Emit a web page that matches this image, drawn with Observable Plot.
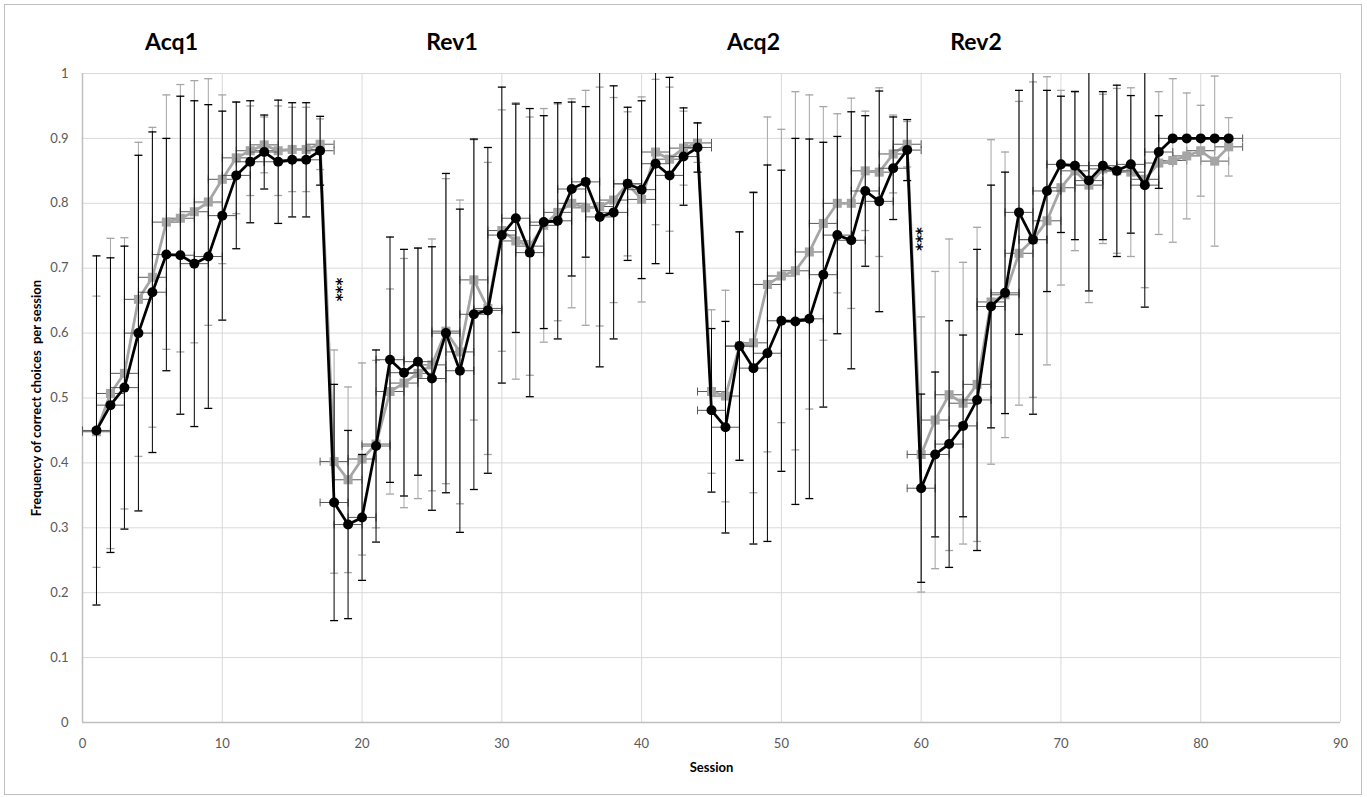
<!DOCTYPE html>
<html>
<head>
<meta charset="utf-8">
<script src="https://cdn.jsdelivr.net/npm/d3@7"></script>
<script src="https://cdn.jsdelivr.net/npm/@observablehq/plot@0.6"></script>
<style>
  body { margin: 0; background: #fff; }
  #chart { position: absolute; left: 0; top: 0; }
  #border { position: absolute; left: 4px; top: 4px; width: 1358px; height: 791px; border: 1px solid #bfbfbf; box-sizing: border-box; pointer-events: none; }
  text { white-space: pre; }
</style>
</head>
<body>
<div id="chart"></div>
<div id="border"></div>
<script>
// ---------- data ----------
const sessions = [1,2,3,4,5,6,7,8,9,10,11,12,13,14,15,16,17,
  18,19,20,21,22,23,24,25,26,27,28,29,30,31,32,33,34,35,36,37,38,39,40,41,42,43,44,
  45,46,47,48,49,50,51,52,53,54,55,56,57,58,59,
  60,61,62,63,64,65,66,67,68,69,70,71,72,73,74,75,76,77,78,79,80,81,82];

// black series (circles): mean and SD
const blackMean = [
  0.450,0.489,0.516,0.600,0.663,0.721,0.720,0.707,0.718,0.781,0.843,0.864,0.879,0.864,0.867,0.867,0.881,
  0.339,0.305,0.316,0.426,0.559,0.539,0.556,0.530,0.600,0.542,0.629,0.635,0.751,0.777,0.724,0.771,0.773,0.822,0.833,0.779,0.786,0.830,0.821,0.861,0.843,0.872,0.886,
  0.481,0.455,0.580,0.546,0.569,0.619,0.618,0.622,0.690,0.751,0.743,0.819,0.803,0.854,0.882,
  0.361,0.413,0.429,0.457,0.497,0.641,0.662,0.786,0.744,0.819,0.860,0.858,0.835,0.858,0.850,0.860,0.828,0.879,0.900,0.900,0.900,0.900,0.900];
const blackSD = [
  0.269,0.227,0.218,0.274,0.247,0.179,0.245,0.251,0.234,0.161,0.113,0.094,0.057,0.095,0.088,0.088,0.053,
  0.182,0.145,0.097,0.148,0.189,0.190,0.175,0.203,0.246,0.249,0.270,0.251,0.228,0.176,0.222,0.164,0.182,0.134,0.116,0.231,0.195,0.118,0.137,0.154,0.151,0.075,0.038,
  0.126,0.163,0.176,0.271,0.290,0.232,0.282,0.277,0.204,0.152,0.198,0.116,0.170,0.079,0.047,
  0.145,0.127,0.190,0.140,0.232,0.187,0.186,0.188,0.269,0.155,0.105,0.114,0.170,0.114,0.132,0.106,0.188,0.056,0,0,0,0,0];

// gray series (squares): mean and SD
const grayMean = [
  0.448,0.507,0.538,0.652,0.686,0.771,0.777,0.787,0.802,0.837,0.870,0.881,0.890,0.881,0.883,0.883,0.891,
  0.402,0.374,0.406,0.429,0.510,0.523,0.538,0.551,0.603,0.571,0.682,0.638,0.758,0.742,0.734,0.766,0.786,0.800,0.793,0.795,0.805,0.830,0.806,0.879,0.868,0.885,0.893,
  0.510,0.503,0.580,0.585,0.675,0.688,0.696,0.725,0.769,0.800,0.800,0.850,0.848,0.876,0.891,
  0.413,0.466,0.505,0.492,0.521,0.648,0.659,0.723,0.744,0.773,0.824,0.850,0.828,0.853,0.850,0.848,0.837,0.862,0.866,0.873,0.881,0.865,0.887];
const graySD = [
  0.209,0.239,0.209,0.242,0.231,0.196,0.206,0.202,0.190,0.130,0.086,0.069,0.043,0.069,0.065,0.065,0.039,
  0.172,0.143,0.148,0.129,0.158,0.192,0.193,0.194,0.235,0.234,0.216,0.225,0.186,0.213,0.199,0.180,0.167,0.161,0.181,0.184,0.158,0.111,0.158,0.112,0.111,0.057,0.030,
  0.126,0.163,0.176,0.231,0.258,0.226,0.276,0.242,0.180,0.138,0.162,0.092,0.130,0.060,0.035,
  0.212,0.229,0.240,0.217,0.242,0.250,0.220,0.234,0.243,0.222,0.150,0.123,0.181,0.115,0.127,0.130,0.167,0.110,0.126,0.097,0.070,0.131,0.045];

const sessionErr = 1; // horizontal error (sessions)

const phaseLabels = ["Acq1", "Rev1", "Acq2", "Rev2"];
const sigMarks = [{s: 18.15, v: 0.667, label: "***"}, {s: 59.65, v: 0.745, label: "***"}];

const xTicks = [0,10,20,30,40,50,60,70,80,90];
const yTicks = [0,0.1,0.2,0.3,0.4,0.5,0.6,0.7,0.8,0.9,1];

const yLabel = "Frequency of correct choices  per session";
const xLabel = "Session";

// ---------- layout ----------
const W = 1367, H = 797;
const ML = 82, MR = 27, MT = 73, MB = 75;
const phaseDx = [89, 369.5, 671, 893.5]; // px offsets of phase titles from plot left

const BLACK = "#000000", GRAY = "#a5a5a5", HBAR = "#595959";

const capH = { draw(ctx) { ctx.moveTo(-4, 0); ctx.lineTo(4, 0); } };
const capV = { draw(ctx) { ctx.moveTo(0, -4); ctx.lineTo(0, 4); } };

const blackRows = sessions.map((s, i) => ({s, m: blackMean[i], sd: blackSD[i]}));
const grayRows = sessions.map((s, i) => ({s, m: grayMean[i], sd: graySD[i]}));

function seriesMarks(rows, col, markerSymbol, markerR) {
  const withSD = rows.filter(d => d.sd > 0);
  return [
    Plot.ruleY(rows, {y: "m", x1: d => d.s - sessionErr, x2: d => d.s + sessionErr, stroke: HBAR, strokeWidth: 1}),
    Plot.dot(rows, {x: d => d.s - sessionErr, y: "m", symbol: capV, stroke: HBAR, strokeWidth: 1, fill: "none"}),
    Plot.dot(rows, {x: d => d.s + sessionErr, y: "m", symbol: capV, stroke: HBAR, strokeWidth: 1, fill: "none"}),
    Plot.ruleX(withSD, {x: "s", y1: d => d.m - d.sd, y2: d => d.m + d.sd, stroke: col, strokeWidth: 1, clip: true}),
    Plot.dot(withSD, {x: "s", y: d => d.m + d.sd, symbol: capH, stroke: col, strokeWidth: 1.3, fill: "none", clip: true}),
    Plot.dot(withSD, {x: "s", y: d => d.m - d.sd, symbol: capH, stroke: col, strokeWidth: 1.3, fill: "none", clip: true}),
    Plot.line(rows, {x: "s", y: "m", stroke: col, strokeWidth: 2.75}),
    Plot.dot(rows, {x: "s", y: "m", symbol: markerSymbol, r: markerR, fill: col, stroke: "none"})
  ];
}

const titleMarks = phaseLabels.map((t, i) =>
  Plot.text([t], {text: d => d, frameAnchor: "top-left", dx: phaseDx[i], dy: -24, lineAnchor: "bottom",
    textAnchor: "middle", fontSize: 23, fontWeight: "bold", fill: "#000"}));

const chart = Plot.plot({
  width: W, height: H,
  marginLeft: ML, marginRight: MR, marginTop: MT, marginBottom: MB,
  style: {fontFamily: "Lato, 'Open Sans', sans-serif", background: "#fff"},
  x: {domain: [0, 90], label: null},
  y: {domain: [0, 1], label: null},
  marks: [
    Plot.gridX(xTicks, {stroke: "#d9d9d9", strokeOpacity: 1, strokeWidth: 1}),
    Plot.gridY(yTicks, {stroke: "#d9d9d9", strokeOpacity: 1, strokeWidth: 1}),
    Plot.ruleX([0], {stroke: "#bfbfbf", strokeWidth: 1.5}),
    Plot.ruleY([0], {stroke: "#bfbfbf", strokeWidth: 1.5}),
    Plot.axisX({ticks: xTicks, tickSize: 0, tickPadding: 16, fontSize: 13, fill: "#595959", label: null, tickFormat: d3.format("~g")}),
    Plot.axisY({ticks: yTicks, tickSize: 0, tickPadding: 14, fontSize: 13, fill: "#595959", label: null, tickFormat: d3.format("~g")}),
    ...seriesMarks(grayRows, GRAY, "square", 5.1),
    ...seriesMarks(blackRows, BLACK, "circle", 5),
    Plot.text(sigMarks, {x: "s", y: "v", text: "label", rotate: 90, fontSize: 15, fontWeight: "bold",
      fontFamily: "'DejaVu Sans', sans-serif", fill: "#000", lineAnchor: "middle"}),
    ...titleMarks,
    Plot.text([yLabel], {text: d => d, frameAnchor: "left", dx: -46, rotate: -90, fontSize: 13, fontWeight: "bold", fill: "#000", textAnchor: "middle"}),
    Plot.text([xLabel], {text: d => d, frameAnchor: "bottom", dy: 49, lineAnchor: "bottom", fontSize: 13, fontWeight: "bold", fill: "#000"})
  ]
});
document.getElementById("chart").appendChild(chart);
</script>
</body>
</html>
